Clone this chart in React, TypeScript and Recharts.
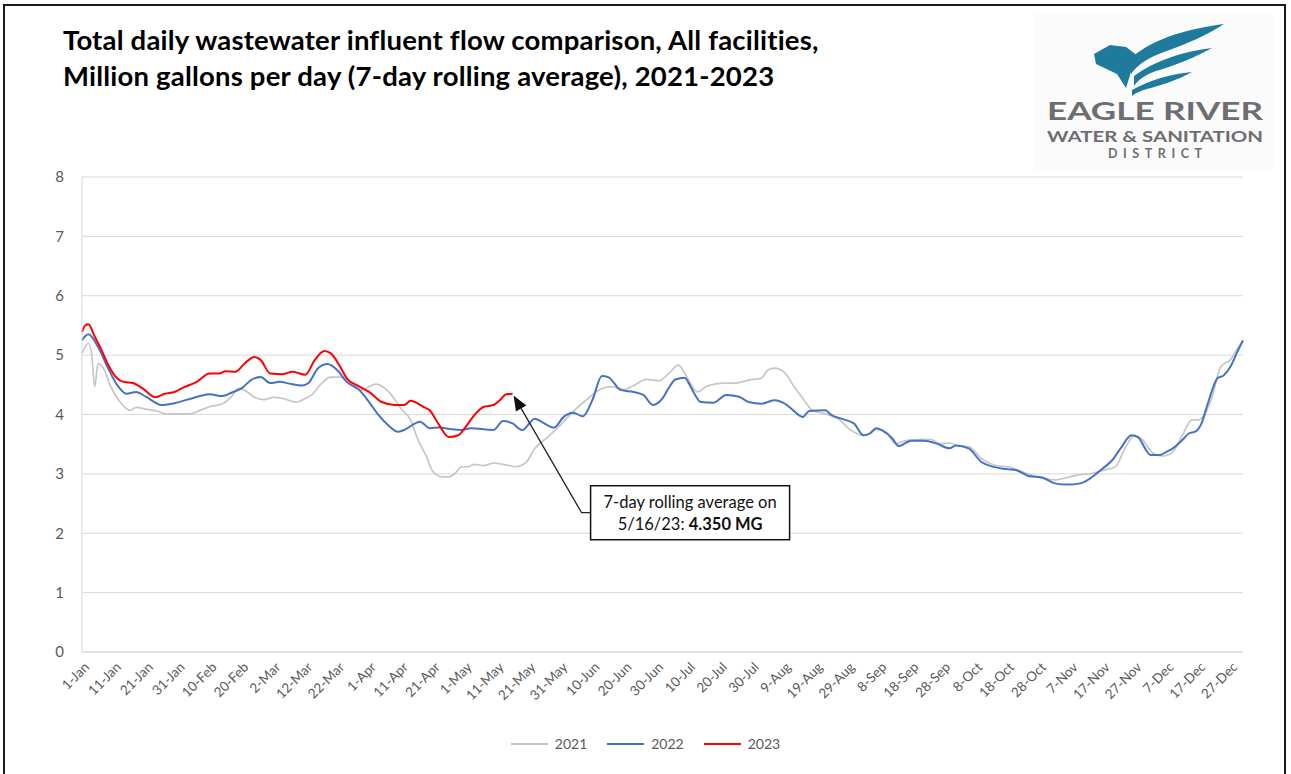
import { LineChart, Line, XAxis, YAxis, CartesianGrid, Legend, ReferenceDot } from 'recharts';

// x axis: day of year, one label every 10 days
const tickLabels = [
  '1-Jan', '11-Jan', '21-Jan', '31-Jan', '10-Feb', '20-Feb', '2-Mar', '12-Mar', '22-Mar',
  '1-Apr', '11-Apr', '21-Apr', '1-May', '11-May', '21-May', '31-May', '10-Jun', '20-Jun',
  '30-Jun', '10-Jul', '20-Jul', '30-Jul', '9-Aug', '19-Aug', '29-Aug', '8-Sep', '18-Sep',
  '28-Sep', '8-Oct', '18-Oct', '28-Oct', '7-Nov', '17-Nov', '27-Nov', '7-Dec', '17-Dec', '27-Dec',
];
const tickDays = tickLabels.map((_, i) => 1 + i * 10);
const yTicks = [0, 1, 2, 3, 4, 5, 6, 7, 8];

// 7-day rolling average, million gallons per day
const days2021 = [
  1, 3, 4, 5, 6, 8, 10, 13, 16, 18, 21, 25, 27, 35, 38, 41, 45, 48, 50, 52, 55, 58, 61, 64, 68,
  71, 73, 76, 79, 82, 85, 89, 91, 93, 96, 98, 101, 104, 106, 109, 111, 114, 116, 118, 120, 122,
  124, 127, 130, 134, 137, 140, 143, 147, 150, 155, 159, 163, 167, 171, 174, 178, 182, 185, 188,
  190, 194, 197, 202, 206, 210, 214, 216, 218, 221, 224, 227, 230, 234, 238, 242, 246, 248, 250,
  253, 256, 260, 267, 270, 273, 276, 279, 283, 287, 292, 297, 301, 306, 310, 313, 317, 321, 325,
  328, 331, 333, 337, 340, 343, 346, 349, 351, 355, 358, 361, 364, 365,
];
const flow2021 = [
  5.03, 5.2, 5.03, 4.47, 4.86, 4.75, 4.47, 4.21, 4.07, 4.12, 4.09, 4.05, 4.01, 4.01, 4.07, 4.13,
  4.18, 4.31, 4.44, 4.41, 4.29, 4.25, 4.29, 4.27, 4.21, 4.27, 4.33, 4.52, 4.63, 4.63, 4.52, 4.41,
  4.47, 4.51, 4.44, 4.33, 4.1, 3.91, 3.62, 3.29, 3.04, 2.95, 2.95, 3.01, 3.12, 3.12, 3.16, 3.14,
  3.18, 3.15, 3.12, 3.18, 3.43, 3.62, 3.77, 4.05, 4.24, 4.41, 4.47, 4.42, 4.49, 4.59, 4.57, 4.69,
  4.83, 4.69, 4.38, 4.48, 4.53, 4.53, 4.58, 4.61, 4.75, 4.78, 4.72, 4.49, 4.27, 4.07, 4.01, 3.93,
  3.74, 3.65, 3.68, 3.75, 3.71, 3.51, 3.57, 3.58, 3.51, 3.52, 3.47, 3.46, 3.26, 3.15, 3.11, 3.01,
  2.94, 2.9, 2.94, 2.98, 3.0, 3.06, 3.12, 3.43, 3.65, 3.6, 3.34, 3.3, 3.37, 3.65, 3.91, 3.91,
  4.24, 4.8, 4.92, 5.17, 5.22,
];

const days2022 = [
  1, 3, 6, 9, 12, 15, 18, 21, 26, 30, 34, 38, 41, 45, 48, 51, 54, 57, 60, 63, 66, 70, 72, 75, 78,
  81, 84, 88, 91, 94, 97, 100, 102, 107, 110, 113, 117, 120, 123, 130, 133, 136, 139, 143, 145,
  149, 152, 155, 158, 161, 164, 166, 170, 174, 177, 180, 183, 185, 187, 190, 191, 193, 195, 199,
  203, 207, 210, 214, 216, 218, 222, 224, 227, 229, 234, 236, 239, 243, 246, 248, 250, 252, 255,
  257, 261, 265, 269, 273, 275, 279, 283, 286, 291, 294, 298, 302, 306, 310, 314, 317, 321, 324,
  327, 330, 332, 336, 339, 341, 343, 346, 348, 350, 352, 354, 357, 359, 361, 363, 365,
];
const flow2022 = [
  5.25, 5.35, 5.14, 4.8, 4.5, 4.35, 4.38, 4.3, 4.16, 4.19, 4.25, 4.31, 4.34, 4.31, 4.37, 4.44,
  4.58, 4.63, 4.53, 4.55, 4.52, 4.49, 4.53, 4.78, 4.85, 4.75, 4.55, 4.41, 4.21, 3.99, 3.82, 3.71,
  3.74, 3.88, 3.77, 3.78, 3.75, 3.74, 3.77, 3.74, 3.89, 3.85, 3.74, 3.93, 3.88, 3.78, 3.96, 4.03,
  3.97, 4.24, 4.65, 4.63, 4.41, 4.38, 4.33, 4.16, 4.27, 4.45, 4.59, 4.62, 4.55, 4.35, 4.21, 4.2,
  4.33, 4.3, 4.21, 4.18, 4.21, 4.24, 4.16, 4.07, 3.96, 4.06, 4.07, 3.99, 3.93, 3.85, 3.65, 3.68,
  3.77, 3.73, 3.6, 3.47, 3.56, 3.56, 3.51, 3.43, 3.48, 3.43, 3.2, 3.13, 3.08, 3.06, 2.96, 2.94,
  2.84, 2.82, 2.84, 2.92, 3.09, 3.23, 3.46, 3.65, 3.62, 3.32, 3.32, 3.37, 3.43, 3.57, 3.68, 3.71,
  3.85, 4.19, 4.61, 4.66, 4.8, 5.03, 5.25,
];

const days2023 = [
  1, 2, 3, 5, 7, 9, 12, 14, 17, 20, 24, 27, 30, 33, 37, 41, 44, 46, 49, 52, 55, 57, 60, 64, 67,
  71, 74, 77, 79, 82, 84, 88, 91, 95, 99, 102, 104, 108, 110, 113, 116, 119, 121, 124, 127, 130,
  132, 134, 136,
];
const flow2023 = [
  5.39, 5.5, 5.52, 5.31, 5.1, 4.86, 4.61, 4.55, 4.53, 4.44, 4.29, 4.35, 4.38, 4.46, 4.55, 4.69,
  4.69, 4.73, 4.72, 4.86, 4.97, 4.92, 4.69, 4.68, 4.72, 4.67, 4.92, 5.07, 5.03, 4.8, 4.61, 4.47,
  4.38, 4.21, 4.16, 4.16, 4.23, 4.13, 4.07, 3.82, 3.62, 3.65, 3.77, 3.99, 4.13, 4.16, 4.24, 4.34,
  4.35,
];

const calloutDay = 136;
const calloutValue = 4.35;

const toRows = (days: number[], flow: number[]) => days.map((day, i) => ({ day, flow: flow[i] }));

const series = [
  { name: '2021', rows: toRows(days2021, flow2021), color: '#c6c6c6', width: 1.7 },
  { name: '2022', rows: toRows(days2022, flow2022), color: '#4472c4', width: 2 },
  { name: '2023', rows: toRows(days2023, flow2023), color: '#ff0000', width: 2 },
];

const font = 'Lato, "Open Sans", sans-serif';
const labelColor = '#595959';

function DayTick({ x, y, payload }: any) {
  const label = tickLabels[tickDays.indexOf(payload.value)];
  const tx = x + 8;
  const ty = y + 14;
  return (
    <text x={tx} y={ty} transform={`rotate(-45 ${tx} ${ty})`} textAnchor="end" fontSize={13.5} fill={labelColor} fontFamily={font}>
      {label}
    </text>
  );
}

function SeriesLegend() {
  return (
    <div style={{ display: 'flex', justifyContent: 'center', gap: 20, fontFamily: font, fontSize: 14, color: labelColor }}>
      {series.map((s) => (
        <div key={s.name} style={{ display: 'flex', alignItems: 'center', gap: 7 }}>
          <span style={{ display: 'inline-block', width: 37, height: 2, background: s.color }} />
          <span>{s.name}</span>
        </div>
      ))}
    </div>
  );
}

function Callout({ cx, cy }: any) {
  if (cx == null || cy == null) return null;
  const tailX = cx + 69;
  const tailY = cy + 119;
  const dx = cx - tailX;
  const dy = cy - tailY;
  const len = Math.sqrt(dx * dx + dy * dy);
  const ux = dx / len;
  const uy = dy / len;
  const tipX = cx - ux * 2;
  const tipY = cy - uy * 2;
  const baseX = tipX - ux * 15;
  const baseY = tipY - uy * 15;
  const head = `${tipX},${tipY} ${baseX - uy * 6},${baseY + ux * 6} ${baseX + uy * 6},${baseY - ux * 6}`;
  const boxX = cx + 78;
  const boxY = cy + 92;
  const boxW = 199;
  const boxH = 54;
  return (
    <g>
      <polyline points={`${boxX},${tailY} ${tailX},${tailY} ${baseX},${baseY}`} fill="none" stroke="#222" strokeWidth={1.3} />
      <polygon points={head} fill="#111" />
      <rect x={boxX} y={boxY} width={boxW} height={boxH} fill="#fff" stroke="#111" strokeWidth={1.5} />
      <text x={boxX + boxW / 2} y={boxY + 22} textAnchor="middle" fontSize={16.5} fill="#111" fontFamily={font}>
        7-day rolling average on
      </text>
      <text x={boxX + boxW / 2} y={boxY + 44} textAnchor="middle" fontSize={16.5} fill="#111" fontFamily={font}>
        5/16/23: <tspan fontWeight="bold">4.350 MG</tspan>
      </text>
    </g>
  );
}

function Logo() {
  return (
    <svg width={240} height={156} style={{ position: 'absolute', left: 1034, top: 14 }}>
      <rect x={0} y={0} width={240} height={156} fill="#fbfbfb" />
      <g fill="#1e7b9c">
        <path d="M60,40 L76,31 L92,33 L104,42 L97,58 L92,74 L83,60 L62,50 Z" />
        <path d="M97,44 C122,22 160,14 190,10 C172,22 152,30 130,38 C114,44 104,50 97,60 Z" />
        <path d="M100,62 C122,46 150,37 178,34 C162,43 142,51 122,57 C111,61 105,65 100,72 Z" />
        <path d="M98,76 C116,66 136,60 158,58 C144,66 128,71 113,75 C106,77 101,79 98,82 Z" />
      </g>
      <g fill="#6d6e71" fontFamily={font} fontWeight="bold" textAnchor="middle">
        <text x={121} y={106} fontSize={25} textLength={216} lengthAdjust="spacingAndGlyphs">EAGLE RIVER</text>
        <text x={121} y={128} fontSize={16} textLength={216} lengthAdjust="spacingAndGlyphs">WATER &amp; SANITATION</text>
        <text x={121} y={144} fontSize={12.5} textLength={94} lengthAdjust="spacing">DISTRICT</text>
      </g>
    </svg>
  );
}

export default function App() {
  return (
    <div style={{ position: 'absolute', left: 0, top: 0, width: 1291, height: 774, background: '#fff', overflow: 'hidden' }}>
      <div style={{ position: 'absolute', left: 3, top: 4, width: 1279, height: 790, border: '2px solid #1a1a1a' }} />
      <div
        style={{
          position: 'absolute',
          left: 63,
          top: 22,
          fontFamily: font,
          fontWeight: 'bold',
          fontSize: 27.5,
          letterSpacing: 0.2,
          lineHeight: '36px',
          color: '#000',
          whiteSpace: 'nowrap',
        }}
      >
        Total daily wastewater influent flow comparison, All facilities,
        <br />
        Million gallons per day (7-day rolling average), 2021-2023
      </div>
      <Logo />
      <div style={{ position: 'absolute', left: 0, top: 0 }}>
        <LineChart width={1291} height={774} margin={{ top: 177, right: 48, bottom: 62, left: 42 }}>
          <CartesianGrid vertical={false} stroke="#d9d9d9" />
          <XAxis
            dataKey="day"
            type="number"
            domain={[1, 365]}
            ticks={tickDays}
            interval={0}
            height={60}
            tick={<DayTick />}
            tickLine={false}
            tickSize={0}
            axisLine={{ stroke: '#d9d9d9' }}
            allowDuplicatedCategory={false}
          />
          <YAxis
            domain={[0, 8]}
            ticks={yTicks}
            width={40}
            tickLine={false}
            tickSize={0}
            tickMargin={18}
            axisLine={{ stroke: '#d9d9d9' }}
            tick={{ fill: labelColor, fontSize: 15, fontFamily: font }}
          />
          {series.map((s) => (
            <Line
              key={s.name}
              data={s.rows}
              dataKey="flow"
              name={s.name}
              type="monotone"
              stroke={s.color}
              strokeWidth={s.width}
              dot={false}
              activeDot={false}
              isAnimationActive={false}
            />
          ))}
          <ReferenceDot x={calloutDay} y={calloutValue} r={0} shape={<Callout />} />
          <Legend
            verticalAlign="middle"
            align="center"
            layout="horizontal"
            content={<SeriesLegend />}
            wrapperStyle={{ top: 735, left: 0, width: 1291 }}
          />
        </LineChart>
      </div>
    </div>
  );
}
